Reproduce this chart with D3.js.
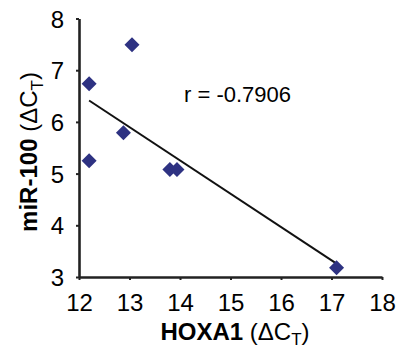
<!DOCTYPE html>
<html>
<head>
<meta charset="utf-8">
<script src="https://cdn.jsdelivr.net/npm/d3@7"></script>
<style>
  html, body { margin: 0; padding: 0; background: #fff; }
  svg { display: block; }
  text { font-family: "Liberation Sans", Arial, sans-serif; fill: #000; }
</style>
</head>
<body>
<svg id="chart" width="397" height="354"></svg>
<script>
// Data
const hoxa1 = [12.2, 13.05, 12.2, 12.88, 13.8, 13.94, 17.1];
const mir100 = [6.74, 7.49, 5.25, 5.79, 5.08, 5.08, 3.18];
const xTicks = [12, 13, 14, 15, 16, 17, 18];
const yTicks = [3, 4, 5, 6, 7, 8];
const rLabel = "r = -0.7906";

const svg = d3.select("#chart");
const x = d3.scaleLinear().domain([12, 18]).range([79, 382]);
const y = d3.scaleLinear().domain([3, 8]).range([277, 18.5]);

const axisColor = "#222";

// Axes
const gx = svg.append("g").attr("transform", `translate(0,${y(3)})`)
  .call(d3.axisBottom(x).tickValues(xTicks).tickFormat(d3.format("d")).tickSize(3).tickSizeOuter(0).tickPadding(14));
const gy = svg.append("g").attr("transform", `translate(${x(12)},0)`)
  .call(d3.axisLeft(y).tickValues(yTicks).tickFormat(d3.format("d")).tickSize(3).tickSizeOuter(0).tickPadding(12));
[gx, gy].forEach(g => {
  g.select(".domain").attr("stroke", axisColor).attr("stroke-width", 2.6);
  g.selectAll(".tick line").attr("stroke", axisColor).attr("stroke-width", 2);
  g.selectAll(".tick text").style("font-size", "24px").attr("fill", "#000");
});
gx.selectAll(".tick text").attr("dy", "0.71em");
gy.selectAll(".tick text").attr("dy", "0.36em");

// Least-squares trend line
const n = hoxa1.length;
const mx = d3.mean(hoxa1), my = d3.mean(mir100);
let sxy = 0, sxx = 0;
for (let i = 0; i < n; i++) { sxy += (hoxa1[i]-mx)*(mir100[i]-my); sxx += (hoxa1[i]-mx)**2; }
const slope = sxy / sxx, icpt = my - slope * mx;
const x0 = d3.min(hoxa1), x1 = d3.max(hoxa1);
svg.append("line")
  .attr("x1", x(x0)).attr("y1", y(icpt + slope*x0))
  .attr("x2", x(x1)).attr("y2", y(icpt + slope*x1))
  .attr("stroke", "#111").attr("stroke-width", 2);

// Diamonds
const h = 7.5;
svg.append("g").selectAll("path").data(hoxa1.map((v,i)=>[v, mir100[i]])).join("path")
  .attr("transform", d => `translate(${x(d[0])},${y(d[1])})`)
  .attr("d", `M0,${-h}L${h},0L0,${h}L${-h},0Z`)
  .attr("fill", "#2e3282");

// r label
svg.append("text").attr("x", 184).attr("y", 102)
  .style("font-size", "22px").text(rLabel);

// X title
const xtt = svg.append("text").attr("x", 235).attr("y", 340)
  .attr("text-anchor", "middle").style("font-size", "24px");
xtt.append("tspan").style("font-weight", "bold").text("HOXA1");
xtt.append("tspan").text(" (ΔC");
xtt.append("tspan").attr("dy", 5).style("font-size", "17px").text("T");
xtt.append("tspan").attr("dy", -5).text(")");

// Y title
const ytt = svg.append("text").attr("transform", "translate(37,152) rotate(-90)")
  .attr("text-anchor", "middle").style("font-size", "24px");
ytt.append("tspan").style("font-weight", "bold").text("miR-100");
ytt.append("tspan").text(" (ΔC");
ytt.append("tspan").attr("dy", 6).style("font-size", "17px").text("T");
ytt.append("tspan").attr("dy", -6).text(")");
</script>
</body>
</html>
